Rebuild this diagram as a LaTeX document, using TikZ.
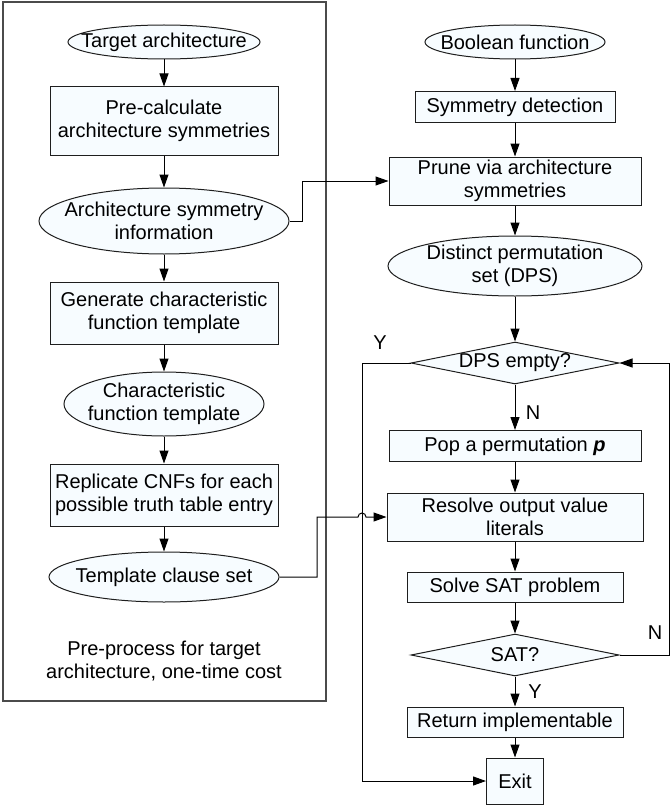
\documentclass[tikz,border=0pt]{standalone}
\usepackage{fontspec}
\setmainfont{Liberation Sans}
\usepackage{tikz}
\usetikzlibrary{shapes.geometric,arrows.meta}
\definecolor{boxfill}{HTML}{F7FCFF}
\definecolor{edge}{HTML}{1E1E1E}

\begin{document}
\begin{tikzpicture}[x=0.5pt,y=-0.5pt,
  font=\fontsize{10}{11.5}\selectfont,
  proc/.style={draw=edge,fill=boxfill,line width=0.5pt,align=center,inner sep=1pt},
  term/.style={ellipse,draw=edge,fill=boxfill,line width=0.5pt,inner sep=0pt},
  decision/.style={diamond,draw=edge,fill=boxfill,line width=0.5pt,inner sep=0pt},
  txt/.style={align=center,inner sep=0pt},
  frame/.style={draw=edge!80,line width=0.7pt},
  arrow/.style={-{Triangle[length=6.5pt,width=4.5pt]},line width=0.5pt,color=black}
]
\useasboundingbox (0,0) rectangle (670,808);

% Pre-processing (left)
\node[frame,minimum width=161.5pt,minimum height=349.5pt] (prebox) at (164.5,351.5) {};
\node[term,minimum width=96pt,minimum height=17pt,
      label={[txt]center:Target architecture}] (tarch) at (164,42) {};
\node[proc,minimum width=114pt,minimum height=34pt] (precalc) at (164,121)
      {Pre-calculate\\architecture symmetries};
\node[term,minimum width=125pt,minimum height=33pt,
      label={[txt]center:Architecture symmetry\\information}] (archsym) at (164,221) {};
\node[proc,minimum width=114pt,minimum height=31pt] (genchar) at (164,313)
      {Generate characteristic\\function template};
\node[term,minimum width=100pt,minimum height=32pt,
      label={[txt]center:Characteristic\\function template}] (charfunc) at (164,404) {};
\node[proc,minimum width=114pt,minimum height=31pt] (replic) at (164,495)
      {Replicate CNFs for each\\possible truth table entry};
\node[term,minimum width=115pt,minimum height=25pt,
      label={[txt]center:Template clause set}] (tclause) at (164,577) {};
\node[txt] (prenote) at (164,661) {Pre-process for target\\architecture, one-time cost};

% Main flow (right)
\node[term,minimum width=90pt,minimum height=17pt,
      label={[txt]center:Boolean function}] (boolf) at (515,42) {};
\node[proc,minimum width=100pt,minimum height=15.5pt] (symdet) at (515,107) {Symmetry detection};
\node[proc,minimum width=126pt,minimum height=24pt] (prune) at (515,181)
      {Prune via architecture\\symmetries};
\node[term,minimum width=127pt,minimum height=30pt,
      label={[txt]center:Distinct permutation\\set (DPS)}] (dps) at (515,266) {};
\node[decision,minimum width=104pt,minimum height=21pt,
      label={[txt]center:DPS empty?}] (empty) at (515,363) {};
\node[proc,minimum width=126pt,minimum height=15.5pt] (pop) at (515,446)
      {Pop a permutation \textbf{\textit{p}}};
\node[proc,minimum width=128pt,minimum height=24pt] (resolve) at (515,517)
      {Resolve output value\\literals};
\node[proc,minimum width=108pt,minimum height=15pt] (solve) at (515,587) {Solve SAT problem};
\node[decision,minimum width=104pt,minimum height=21pt,
      label={[txt]center:SAT?}] (sat) at (515,655) {};
\node[proc,minimum width=108pt,minimum height=15pt] (ret) at (515,722) {Return implementable};
\node[proc,minimum width=28.5pt,minimum height=23pt] (exit) at (515,781) {Exit};

% Y / N labels
\node[txt] (ylab1) at (380,343) {Y};
\node[txt] (nlab1) at (533,413) {N};
\node[txt] (nlab2) at (655,633) {N};
\node[txt] (ylab2) at (535,692) {Y};

% Bend points
\coordinate (asbend) at (302,221);
\coordinate (tcbend) at (317,577);
\coordinate (hop) at (358,517);
\coordinate (ycorner) at (362,363);
\coordinate (ybottom) at (362,781);
\coordinate (nright) at (669,655);
\coordinate (ntop) at (669,363);

% Arrows left
\draw[arrow] (tarch) -- (precalc);
\draw[arrow] (precalc) -- (archsym);
\draw[arrow] (archsym) -- (genchar);
\draw[arrow] (genchar) -- (charfunc);
\draw[arrow] (charfunc) -- (replic);
\draw[arrow] (replic) -- (tclause);

% Arrows right
\draw[arrow] (boolf) -- (symdet);
\draw[arrow] (symdet) -- (prune);
\draw[arrow] (prune) -- (dps);
\draw[arrow] (dps) -- (empty);
\draw[arrow] (empty) -- (pop);
\draw[arrow] (pop) -- (resolve);
\draw[arrow] (resolve) -- (solve);
\draw[arrow] (solve) -- (sat);
\draw[arrow] (sat) -- (ret);
\draw[arrow] (ret) -- (exit);

% Cross links
\draw[arrow] (archsym.east) -- (asbend) |- (prune.west);
\draw[arrow] (empty.west) -- (ycorner) -- (ybottom) -- (exit.west);
\draw[arrow] (tclause.east) -- (tcbend) |- (hop)
  arc[start angle=180,end angle=0,radius=2pt] -- (resolve.west);
\draw[arrow] (sat.east) -- (nright) -- (ntop) -- (empty.east);

\end{tikzpicture}
\end{document}
